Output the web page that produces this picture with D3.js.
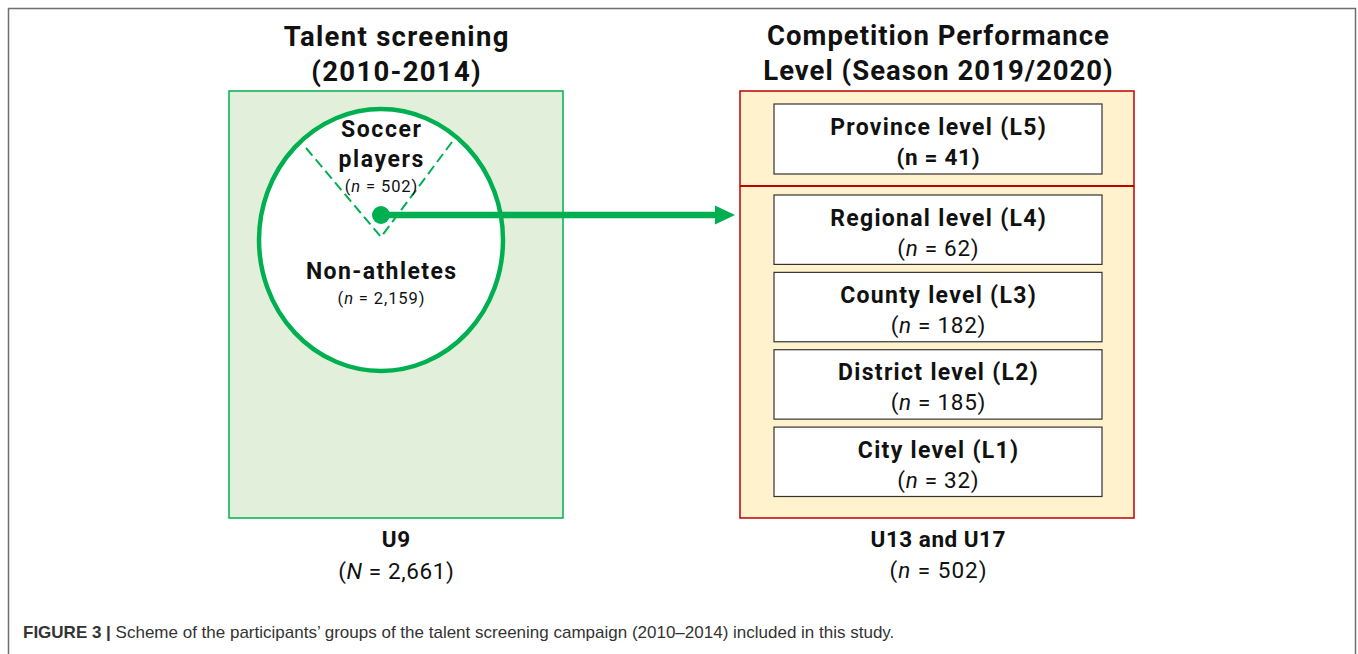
<!DOCTYPE html>
<html><head><meta charset="utf-8">
<script src="https://cdn.jsdelivr.net/npm/d3@7"></script>
<style>
html,body{margin:0;padding:0;background:#fff;}
svg{display:block;}
text{font-family:Roboto,"DejaVu Sans",sans-serif;fill:#111;}
</style></head>
<body>
<svg id="chart" width="1358" height="654"></svg>
<script>
// ---- data ----
const leftTitle = ["Talent screening", "(2010-2014)"];
const rightTitle = ["Competition Performance", "Level (Season 2019/2020)"];
const topLevel = ["L5"];
const lowerLevels = ["L4", "L3", "L2", "L1"];
const levelNames = {L5: "Province level (L5)", L4: "Regional level (L4)", L3: "County level (L3)", L2: "District level (L2)", L1: "City level (L1)"};
const levelCounts = {L5: 41, L4: 62, L3: 182, L2: 185, L1: 32};
const soccerPlayers = 502;
const nonAthletes = 2159;
const totalU9 = 2661;
const leftFooter = "U9";
const rightFooter = "U13 and U17";
const caption = "Scheme of the participants’ groups of the talent screening campaign (2010–2014) included in this study.";

const svg = d3.select("#chart");
const GREEN = "#00b050", RED = "#c00000";
const fmt = d3.format(",");

// centered text helper with letter spacing compensation
function ctext(x, y, size, weight, ls) {
  return svg.append("text").attr("x", x + (ls || 0) / 2).attr("y", y).attr("text-anchor", "middle")
    .attr("font-size", size).attr("font-weight", weight).style("letter-spacing", (ls || 0) + "px");
}

// frame
svg.append("path").attr("d", "M8.5,660 L8.5,8.5 L1355.5,8.5 L1355.5,660")
  .attr("fill", "none").attr("stroke", "#6f6f6f").attr("stroke-width", 1.5);

// ---- left panel ----
const L = {x0: 229, x1: 563, y0: 91, y1: 518};
const lcx = (L.x0 + L.x1) / 2;
svg.append("rect").attr("x", L.x0).attr("y", L.y0).attr("width", L.x1 - L.x0).attr("height", L.y1 - L.y0)
  .attr("fill", "#e2efda").attr("stroke", GREEN).attr("stroke-width", 1.5);

leftTitle.forEach((t, i) => ctext(lcx, 46 + i * 35, 27.5, 700, 1.3).text(t));

const ecx = 381, ecy = 240;
svg.append("ellipse").attr("cx", ecx).attr("cy", ecy).attr("rx", 122).attr("ry", 131)
  .attr("fill", "#fff").attr("stroke", GREEN).attr("stroke-width", 4.5);

// dashed V
const vApex = [ecx, 237];
svg.append("path").attr("d", d3.line()([[306, 148], vApex, [452, 142]]))
  .attr("fill", "none").attr("stroke", GREEN).attr("stroke-width", 2).attr("stroke-dasharray", "10,5");

// arrow
const dot = [ecx, 215];
const tipX = 735;
svg.append("line").attr("x1", dot[0]).attr("y1", dot[1]).attr("x2", tipX - 18).attr("y2", dot[1])
  .attr("stroke", GREEN).attr("stroke-width", 6.5);
svg.append("path").attr("d", d3.line()([[tipX - 20, dot[1] - 9.5], [tipX, dot[1]], [tipX - 20, dot[1] + 9.5]]) + "Z")
  .attr("fill", GREEN);
svg.append("circle").attr("cx", dot[0]).attr("cy", dot[1]).attr("r", 9).attr("fill", GREEN);

function nText(t, sym, val, italic) {
  t.append("tspan").text("(");
  t.append("tspan").attr("font-style", italic ? "italic" : "normal").text(sym);
  t.append("tspan").text(" = " + val + ")");
  return t;
}

ctext(ecx, 137, 23, 700, 1.6).text("Soccer");
ctext(ecx, 167, 23, 700, 1.6).text("players");
nText(ctext(ecx, 192, 16.5, 400, 0.9), "n", soccerPlayers, true);
ctext(ecx, 279, 23, 700, 1.4).text("Non-athletes");
nText(ctext(ecx, 304, 16.5, 400, 0.9), "n", fmt(nonAthletes), true);

ctext(lcx, 547, 22.5, 700, 0.6).text(leftFooter);
nText(ctext(lcx, 579, 22.5, 400, 0.6), "N", fmt(totalU9), true);

// ---- right panel ----
const R = {x0: 740, x1: 1134, y0: 91, y1: 518, div: 186};
const rcx = 938;
svg.append("rect").attr("x", R.x0).attr("y", R.y0).attr("width", R.x1 - R.x0).attr("height", R.y1 - R.y0)
  .attr("fill", "#fff2cc").attr("stroke", RED).attr("stroke-width", 1.5);
svg.append("line").attr("x1", R.x0).attr("x2", R.x1).attr("y1", R.div).attr("y2", R.div)
  .attr("stroke", RED).attr("stroke-width", 2);

rightTitle.forEach((t, i) => ctext(rcx, 45 + i * 35, 27.5, 700, 1.0).text(t));

const bx0 = 774, bx1 = 1102;
const yTop = d3.scaleBand().domain(topLevel).range([104, 174]);
const yLow = d3.scaleBand().domain(lowerLevels).range([195, 496.5]).paddingInner(0.103).paddingOuter(0);

function drawBox(lv, y, h, boldN) {
  svg.append("rect").attr("x", bx0).attr("y", y).attr("width", bx1 - bx0).attr("height", h)
    .attr("fill", "#fff").attr("stroke", "#333").attr("stroke-width", 1.2);
  ctext(rcx, y + h / 2 - 4, 23, 700, 1.3).text(levelNames[lv]);
  nText(ctext(rcx, y + h / 2 + 26, 22.5, boldN ? 700 : 400, 0.7), "n", levelCounts[lv], !boldN);
}
topLevel.forEach(lv => drawBox(lv, yTop(lv), yTop.bandwidth(), true));
lowerLevels.forEach(lv => drawBox(lv, yLow(lv), yLow.bandwidth(), false));

ctext(rcx, 547, 22.5, 700, 0.5).text(rightFooter);
nText(ctext(rcx, 578, 22.5, 400, 1.0), "n", soccerPlayers, true);

// caption
const cap = svg.append("text").attr("x", 23).attr("y", 638).attr("font-size", 17)
  .style("font-family", "'Liberation Sans Narrow','Liberation Sans',Arial,sans-serif").style("fill", "#333");
cap.append("tspan").attr("font-weight", 700).text("FIGURE 3 | ");
cap.append("tspan").text(caption);
</script>
</body></html>
